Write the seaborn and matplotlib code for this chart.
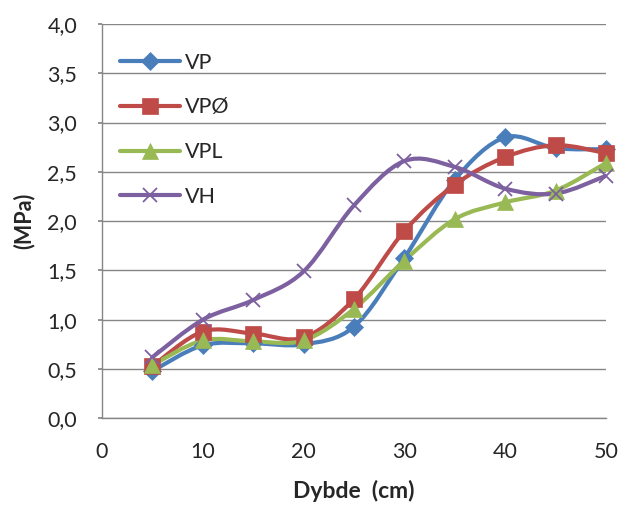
import numpy as np
import pandas as pd
import matplotlib
matplotlib.use("Agg")
import matplotlib.pyplot as plt
from matplotlib.path import Path
from matplotlib.patches import PathPatch
from matplotlib.lines import Line2D
from matplotlib.ticker import FuncFormatter, MultipleLocator
import seaborn as sns

depth = [5, 10, 15, 20, 25, 30, 35, 40, 45, 50]
vp = [0.48, 0.74, 0.76, 0.75, 0.93, 1.63, 2.42, 2.85, 2.74, 2.73]
vpo = [0.53, 0.88, 0.86, 0.82, 1.21, 1.90, 2.37, 2.65, 2.77, 2.69]
vpl = [0.54, 0.79, 0.78, 0.79, 1.11, 1.60, 2.02, 2.19, 2.31, 2.59]
vh = [0.62, 1.00, 1.20, 1.49, 2.16, 2.61, 2.55, 2.33, 2.28, 2.46]
series_names = ["VP", "VPØ", "VPL", "VH"]

colors = ["#4A7EBB", "#BE4B48", "#98B954", "#7D60A0"]
markers = ["D", "s", "^", "x"]
msizes = [9, 11, 11, 10]

sns.set_theme(style="white")
plt.rcParams['font.family'] = ['Lato', 'DejaVu Sans']

df = pd.DataFrame({"depth": depth * 4,
                   "value": vp + vpo + vpl + vh,
                   "series": sum([[n] * len(depth) for n in series_names], [])})

fig = plt.figure(figsize=(6.27, 5.05), dpi=100)
ax = fig.add_axes([0.1627, 0.1717, 0.8038, 0.7808])


def smooth_path(xs, ys):
    pts = np.column_stack([xs, ys]).astype(float)
    n = len(pts)
    verts = [pts[0]]
    codes = [Path.MOVETO]
    for i in range(n - 1):
        p0 = pts[i - 1] if i > 0 else pts[i]
        p1 = pts[i]
        p2 = pts[i + 1]
        p3 = pts[i + 2] if i + 2 < n else pts[i + 1]
        c1 = p1 + (p2 - p0) / 6.0
        c2 = p2 - (p3 - p1) / 6.0
        verts += [c1, c2, p2]
        codes += [Path.CURVE4] * 3
    return Path(verts, codes)


for name, c, m, ms in zip(series_names, colors, markers, msizes):
    sub = df[df.series == name]
    patch = PathPatch(smooth_path(sub.depth.values, sub.value.values),
                      facecolor="none", edgecolor=c, lw=3.0,
                      capstyle="round", joinstyle="round", zorder=3)
    ax.add_patch(patch)
    ax.plot(sub.depth, sub.value, linestyle="none", marker=m, color=c,
            markersize=ms, markeredgewidth=1.3 if m == "x" else 0.5,
            markeredgecolor=c, zorder=4, clip_on=False)

ax.set_xlim(0, 50)
ax.set_ylim(0, 4)
ax.xaxis.set_major_locator(MultipleLocator(10))
ax.yaxis.set_major_locator(MultipleLocator(0.5))
ax.yaxis.set_major_formatter(FuncFormatter(lambda v, p: f"{v:.1f}".replace(".", ",")))
ax.grid(axis="y", color="#868686", lw=1.0)
ax.grid(axis="x", visible=False)
ax.set_axisbelow(True)
for s in ["top", "right"]:
    ax.spines[s].set_visible(False)
for s in ["left", "bottom"]:
    ax.spines[s].set_color("#868686")
    ax.spines[s].set_linewidth(1.0)
ax.tick_params(axis="y", which="major", length=3, color="#868686", labelsize=15.5,
               pad=15, left=True, direction="out")
ax.tick_params(axis="x", which="major", length=0, labelsize=15.5, pad=17)
ax.set_xlabel("Dybde  (cm)", fontsize=16.5, fontweight="bold", labelpad=13)
ax.set_ylabel("(MPa)", fontsize=15.5, fontweight="bold", labelpad=9)

handles = [Line2D([0], [0], color=c, lw=3.0, marker=m, markersize=ms,
                  markeredgewidth=1.3 if m == "x" else 0.5, markeredgecolor=c,
                  solid_capstyle="round")
           for c, m, ms in zip(colors, markers, msizes)]
leg = ax.legend(handles, series_names, loc="upper left", bbox_to_anchor=(0.01, 0.96),
                frameon=False, fontsize=15.5, handlelength=2.8, labelspacing=1.15,
                handletextpad=0.2, borderaxespad=0.2)

fig.savefig("out.png", dpi=100)
